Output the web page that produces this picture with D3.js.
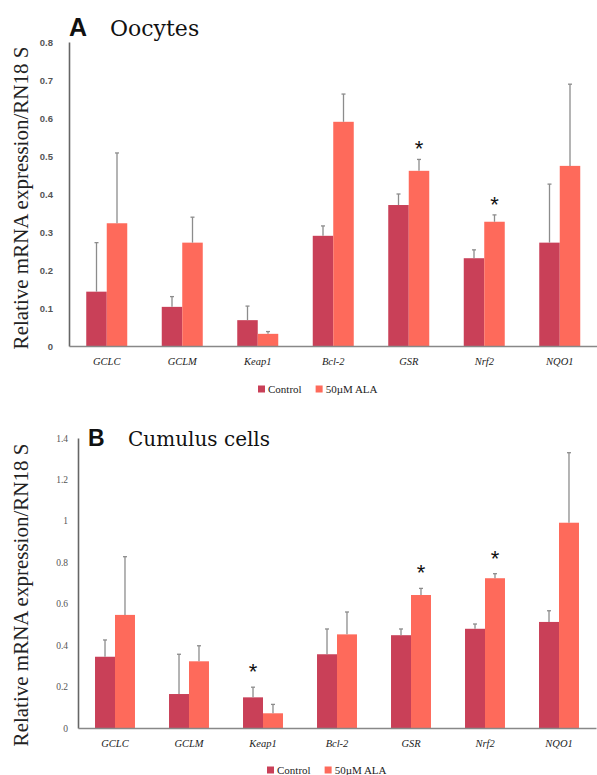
<!DOCTYPE html>
<html>
<head>
<meta charset="utf-8">
<script src="https://cdn.jsdelivr.net/npm/d3@7"></script>
<style>
  body { margin: 0; background: #fff; }
  svg { display: block; }
</style>
</head>
<body>
<div id="chart"></div>
<script>
// Gene expression in oocytes (A) and cumulus cells (B), control vs 50 µM ALA

const genes = ["GCLC", "GCLM", "Keap1", "Bcl-2", "GSR", "Nrf2", "NQO1"];
const groups = ["Control", "50\u00b5M ALA"];

// panel A - oocytes (mean and upper error)
const oocyteControl = [0.143, 0.103, 0.068, 0.290, 0.371, 0.231, 0.272];
const oocyteControlErr = [0.129, 0.027, 0.037, 0.026, 0.029, 0.022, 0.154];
const oocyteAla = [0.323, 0.272, 0.032, 0.590, 0.461, 0.327, 0.474];
const oocyteAlaErr = [0.185, 0.067, 0.006, 0.073, 0.030, 0.018, 0.215];
const oocyteTicks = [0, 0.1, 0.2, 0.3, 0.4, 0.5, 0.6, 0.7, 0.8];
// significant bars: [gene, group index]
const oocyteSig = [["GSR", 1], ["Nrf2", 1]];

// panel B - cumulus cells
const cumulusControl = [0.344, 0.164, 0.148, 0.356, 0.448, 0.479, 0.512];
const cumulusControlErr = [0.081, 0.192, 0.049, 0.122, 0.030, 0.023, 0.054];
const cumulusAla = [0.546, 0.322, 0.071, 0.452, 0.642, 0.723, 0.991];
const cumulusAlaErr = [0.281, 0.075, 0.043, 0.108, 0.032, 0.022, 0.338];
const cumulusTicks = [0, 0.2, 0.4, 0.6, 0.8, 1, 1.2, 1.4];
const cumulusSig = [["Keap1", 0], ["GSR", 1], ["Nrf2", 1]];

const colors = ["#c94058", "#fe6a5b"];
const serif = "'Liberation Serif', 'DejaVu Serif', serif";

const width = 597, height = 775;

const svg = d3.select("#chart").append("svg")
  .attr("width", width)
  .attr("height", height)
  .attr("viewBox", [0, 0, width, height]);

function drawPanel(cfg) {
  const g = svg.append("g");

  const x = d3.scaleBand()
    .domain(genes)
    .range([cfg.left, cfg.right])
    .paddingInner(cfg.pad)
    .paddingOuter(cfg.pad / 2);

  const xs = d3.scaleBand()
    .domain(d3.range(groups.length))
    .range([0, x.bandwidth()]);

  const y = d3.scaleLinear()
    .domain([0, cfg.max])
    .range([cfg.bottom, cfg.top]);

  const rows = [];
  genes.forEach((gene, i) => {
    cfg.series.forEach((s, k) => {
      rows.push({gene, k, v: s.values[i], e: s.err[i]});
    });
  });

  // bars
  g.append("g")
    .selectAll("rect")
    .data(rows)
    .join("rect")
    .attr("x", d => x(d.gene) + xs(d.k))
    .attr("y", d => y(d.v))
    .attr("width", xs.bandwidth())
    .attr("height", d => y(0) - y(d.v))
    .attr("fill", d => colors[d.k]);

  // upper error bars
  const eb = g.append("g")
    .attr("stroke", "#8c8c8c")
    .attr("stroke-width", 1.3)
    .selectAll("g")
    .data(rows)
    .join("g")
    .attr("transform", d => `translate(${x(d.gene) + xs(d.k) + xs.bandwidth() / 2},0)`);
  eb.append("line")
    .attr("y1", d => y(d.v))
    .attr("y2", d => y(d.v + d.e));
  eb.append("line")
    .attr("x1", -2).attr("x2", 2)
    .attr("y1", d => y(d.v + d.e))
    .attr("y2", d => y(d.v + d.e));

  // asterisks
  const lookup = new Map(rows.map(d => [d.gene + d.k, d]));
  g.append("g")
    .selectAll("text")
    .data(cfg.sig.map(([gene, k]) => lookup.get(gene + k)))
    .join("text")
    .attr("x", d => x(d.gene) + xs(d.k) + xs.bandwidth() / 2)
    .attr("y", d => y(d.v + d.e) - cfg.starGap)
    .attr("text-anchor", "middle")
    .attr("font-family", "'Liberation Sans', Arial, sans-serif")
    .attr("font-size", 22)
    .attr("fill", "#111")
    .text("*");

  // y axis
  g.append("g")
    .attr("transform", `translate(${cfg.left},0)`)
    .call(d3.axisLeft(y).tickValues(cfg.ticks).tickSize(0).tickPadding(cfg.tickPad)
      .tickFormat(d => String(+d.toFixed(1))))
    .call(a => a.select(".domain").attr("stroke", "#666").attr("stroke-width", 1.6))
    .call(a => a.selectAll("text")
      .attr("font-family", cfg.tickFont)
      .attr("font-size", 9.5)
      .attr("font-weight", cfg.tickWeight)
      .attr("fill", "#555"));

  // x axis with gene names
  g.append("g")
    .attr("transform", `translate(0,${cfg.bottom})`)
    .call(d3.axisBottom(x).tickSize(0).tickPadding(12))
    .call(a => a.select(".domain").attr("stroke", "#888").attr("stroke-width", 1.6))
    .call(a => a.selectAll("text")
      .attr("font-family", serif)
      .attr("font-style", "italic")
      .attr("font-size", 10.5)
      .attr("fill", "#222"));

  // y axis title
  g.append("text")
    .attr("transform", `translate(${cfg.titleX},${cfg.titleY}) rotate(-90)`)
    .attr("text-anchor", "middle")
    .attr("font-family", serif)
    .attr("font-size", 21)
    .attr("fill", "#222")
    .text("Relative mRNA expression/RN18 S");

  // panel heading
  g.append("text")
    .attr("x", cfg.headX)
    .attr("y", cfg.headY)
    .attr("font-family", "'Liberation Sans', Arial, sans-serif")
    .attr("font-weight", "bold")
    .attr("font-size", cfg.headSize + 3)
    .attr("fill", "#111")
    .text(cfg.letter);
  g.append("text")
    .attr("x", cfg.headX + cfg.nameOffset)
    .attr("y", cfg.headY)
    .attr("font-family", "'DejaVu Serif', serif")
    .attr("font-size", cfg.headSize)
    .attr("fill", "#111")
    .text(cfg.name);

  // legend
  const lg = g.append("g")
    .attr("transform", `translate(${cfg.legendX},${cfg.legendY})`);
  let off = 0;
  groups.forEach((name, k) => {
    lg.append("rect")
      .attr("x", off).attr("y", -3.5)
      .attr("width", 7).attr("height", 7)
      .attr("fill", colors[k]);
    const t = lg.append("text")
      .attr("x", off + 10)
      .attr("dy", "0.35em")
      .attr("font-family", serif)
      .attr("font-size", 11)
      .attr("fill", "#222")
      .text(name);
    off += 10 + t.node().getComputedTextLength() + 14;
  });
}

drawPanel({
  series: [{values: oocyteControl, err: oocyteControlErr}, {values: oocyteAla, err: oocyteAlaErr}],
  sig: oocyteSig,
  ticks: oocyteTicks,
  max: 0.8,
  left: 69, right: 597.5, top: 42, bottom: 346,
  pad: 0.457,
  tickPad: 16, tickFont: "'Liberation Sans', Arial, sans-serif", tickWeight: "bold",
  starGap: 3,
  titleX: 28, titleY: 198,
  headX: 69, headY: 36, headSize: 22, letter: "A", name: "Oocytes", nameOffset: 41,
  legendX: 258, legendY: 389
});

drawPanel({
  series: [{values: cumulusControl, err: cumulusControlErr}, {values: cumulusAla, err: cumulusAlaErr}],
  sig: cumulusSig,
  ticks: cumulusTicks,
  max: 1.4,
  left: 78, right: 596, top: 438, bottom: 728,
  pad: 0.46,
  tickPad: 10, tickFont: serif, tickWeight: "normal",
  starGap: 8,
  titleX: 28, titleY: 595,
  headX: 88, headY: 446, headSize: 20, letter: "B", name: "Cumulus cells", nameOffset: 40,
  legendX: 267, legendY: 770
});
</script>
</body>
</html>
